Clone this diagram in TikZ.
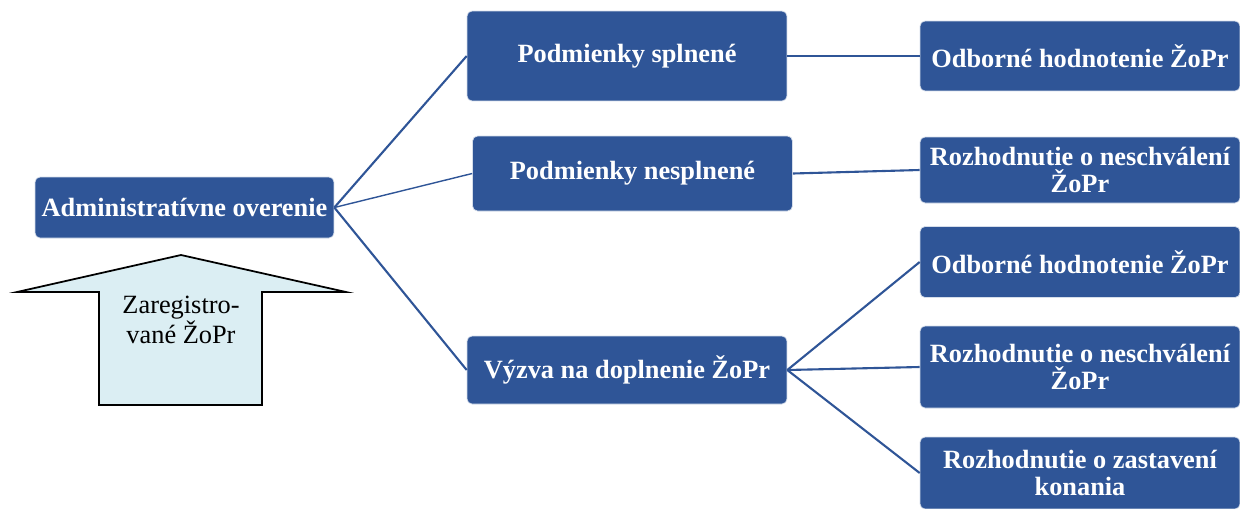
\documentclass[tikz,border=0pt]{standalone}
\usepackage{fontspec}
\setmainfont{Liberation Serif}
\usepackage{tikz}

\definecolor{boxblue}{RGB}{47,85,151}
\definecolor{arrowfill}{RGB}{219,238,243}

\begin{document}
\begin{tikzpicture}[x=0.02cm, y=-0.02cm,
    box/.style={draw=white!80!boxblue, line width=.4pt, fill=boxblue, rounded corners=.1cm,
      text=white, font=\fontsize{15}{15.5}\selectfont\bfseries, align=center,
      inner sep=0pt, minimum width=6.4cm},
    link/.style={draw=boxblue, line width=1.2pt}]
  \useasboundingbox (0, 0) rectangle (1240, 508);
  \node [box, minimum width=5.98cm, minimum height=1.22cm] (admin) at (184.5, 207.5) {Administratívne overenie};
  \node [box, minimum height=1.8cm] (splnene) at (627, 56) {Podmienky splnené};
  \node [box, minimum height=1.5cm] (nesplnene) at (632.5, 173.5) {Podmienky nesplnené};
  \node [box, minimum height=1.36cm] (vyzva) at (627, 370) {Výzva na doplnenie ŽoPr};
  \node [box, minimum height=1.4cm] (odb1) at (1080, 56) {Odborné hodnotenie ŽoPr};
  \node [box, minimum height=1.32cm] (neschv1) at (1080, 170) {Rozhodnutie o neschválení\\ŽoPr};
  \node [box, minimum height=1.42cm] (odb2) at (1080, 262) {Odborné hodnotenie ŽoPr};
  \node [box, minimum height=1.64cm] (neschv2) at (1080, 367) {Rozhodnutie o neschválení\\ŽoPr};
  \node [box, minimum height=1.44cm] (zastav) at (1080, 473) {Rozhodnutie o zastavení\\konania};
  \draw [link] (admin.east) -- (splnene.west);
  \draw [link, line width=.8pt] (admin.east) -- (nesplnene.west);
  \draw [link] (admin.east) -- (vyzva.west);
  \draw [link] (splnene.east) -- (odb1.west);
  \draw [link] (nesplnene.east) -- (neschv1.west);
  \draw [link] (vyzva.east) -- (odb2.west);
  \draw [link] (vyzva.east) -- (neschv2.west);
  \draw [link] (vyzva.east) -- (zastav.west);
  % input arrow
  \draw [fill=arrowfill, line width=1pt, line join=miter]
    (181, 255) -- (346, 292) -- (262, 292) -- (262, 405) -- (99, 405) -- (99, 292) -- (17, 292) -- cycle;
  \node [align=center, font=\fontsize{15}{17.5}\selectfont] (zaregistrovane) at (181, 320) {Zaregistro-\\vané ŽoPr};
\end{tikzpicture}
\end{document}
